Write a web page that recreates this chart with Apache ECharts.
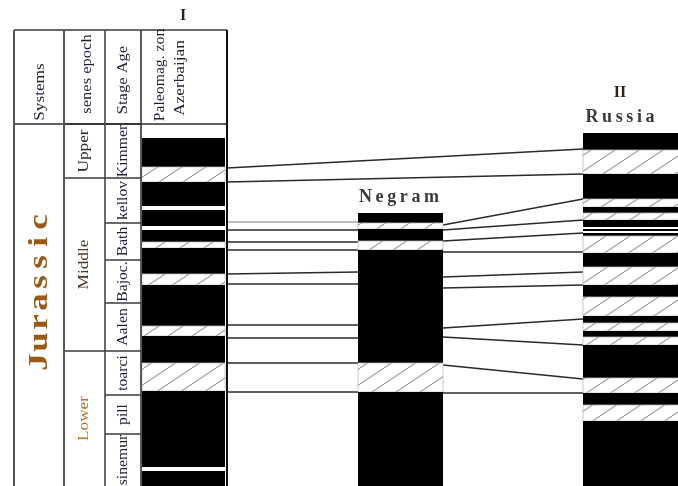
<!DOCTYPE html>
<html>
<head>
<meta charset="utf-8">
<script src="https://cdn.jsdelivr.net/npm/echarts@6/dist/echarts.min.js"></script>
<style>
  html, body { margin: 0; padding: 0; background: #fff; }
  #chart { width: 678px; height: 486px; }
</style>
</head>
<body>
<div id="chart"></div>
<script>
// ---- Section scale: positions along the section (0 = top of sheet, 486 = bottom) ----

// Stratigraphic table
const systemName = 'Jurassic';
const epochNames = ['Upper', 'Middle', 'Lower'];
const epochTops = [124, 178, 351];
const stageNames = ['Kimmer', 'kellov', 'Bath', 'Bajoc.', 'Aalen', 'toarci', 'pill', 'sinemur'];
const stageTops = [124, 178, 223, 260, 303, 351, 395, 434];
const sectionBase = 486;

// Polarity zones: [top, bottom, polarity]  n = normal, r = reversed, w = gap
const zonesAzerbaijan = [
  [124, 138, 'w'], [138, 167, 'n'], [167, 182, 'r'], [182, 206, 'n'], [206, 210, 'w'],
  [210, 226, 'n'], [226, 230, 'w'], [230, 242, 'n'], [242, 248, 'r'], [248, 274, 'n'],
  [274, 285, 'r'], [285, 326, 'n'], [326, 336, 'r'], [336, 363, 'n'], [363, 391, 'r'],
  [391, 467, 'n'], [467, 471, 'w'], [471, 486, 'n']
];
const zonesNegram = [
  [213, 223, 'n'], [223, 229, 'r'], [229, 241, 'n'], [241, 250, 'r'],
  [250, 363, 'n'], [363, 392, 'r'], [392, 486, 'n']
];
const zonesRussia = [
  [133, 150, 'n'], [150, 174, 'r'], [174, 199, 'n'], [199, 207, 'r'], [207, 213, 'n'],
  [213, 220, 'r'], [220, 227, 'n'], [227, 229, 'w'], [229, 231, 'n'], [231, 233, 'w'],
  [233, 236, 'n'], [236, 253, 'r'], [253, 267, 'n'], [267, 285, 'r'], [285, 297, 'n'],
  [297, 316, 'r'], [316, 323, 'n'], [323, 331, 'r'], [331, 337, 'n'], [337, 345, 'r'],
  [345, 378, 'n'], [378, 393, 'r'], [393, 405, 'n'], [405, 421, 'r'], [421, 486, 'n']
];

// Correlation ties: [level in left column, level in right column]
const tiesAzerbaijanRussia = [[168, 149], [182, 174]];
const tiesAzerbaijanNegram = [
  [230, 230], [242, 242], [250, 250], [274, 272], [284, 284],
  [325, 325], [338, 338], [363, 363], [392, 392]
];
const tiesAzerbaijanNegramFaint = [[222, 222]];
const tiesNegramRussia = [
  [225, 199], [230, 220], [241, 233], [252, 252], [277, 272], [288, 285],
  [328, 319], [337, 345], [365, 379], [393, 393]
];

// ---- Layout (horizontal extents of the columns) ----
const COL_AZ = [142, 225];
const COL_NG = [358, 443];
const COL_RU = [583, 700];
const TABLE = { left: 14, sys: 64, epoch: 105, stage: 141, right: 227, top: 30, head: 124 };

const SERIF = '"Liberation Serif", "DejaVu Serif", serif';
const INK = '#1d2236';

// Diagonal hatching for reversed intervals
function makeHatch() {
  const c = document.createElement('canvas');
  c.width = 24; c.height = 16;
  const g = c.getContext('2d');
  g.fillStyle = '#fff';
  g.fillRect(0, 0, 24, 16);
  g.strokeStyle = '#9c9c9c';
  g.lineWidth = 1.1;
  g.beginPath();
  g.moveTo(-2, 17.33); g.lineTo(26, -1.33);
  g.stroke();
  return { image: c, repeat: 'repeat' };
}
const hatch = makeHatch();

function zoneSeries(name, cols, zones) {
  return {
    type: 'custom',
    name: name,
    coordinateSystem: 'cartesian2d',
    silent: true,
    z: 2,
    data: zones.map(z => [cols[0], z[0], cols[1], z[1]]),
    renderItem: function (params, api) {
      const p0 = api.coord([api.value(0), api.value(1)]);
      const p1 = api.coord([api.value(2), api.value(3)]);
      const pol = zones[params.dataIndex][2];
      const fill = pol === 'n' ? '#000' : (pol === 'r' ? hatch : '#fff');
      return {
        type: 'rect',
        shape: { x: p0[0], y: p0[1], width: p1[0] - p0[0], height: p1[1] - p0[1] },
        style: { fill: fill, stroke: pol === 'r' ? '#bdbdbd' : null, lineWidth: 0.8 }
      };
    }
  };
}

function tieSeries(x0, x1, ties, color, width) {
  return {
    type: 'custom',
    coordinateSystem: 'cartesian2d',
    silent: true,
    z: 1,
    data: ties.map(t => [x0, t[0], x1, t[1]]),
    renderItem: function (params, api) {
      const a = api.coord([api.value(0), api.value(1)]);
      const b = api.coord([api.value(2), api.value(3)]);
      return {
        type: 'line',
        shape: { x1: a[0], y1: a[1], x2: b[0], y2: b[1] },
        style: { stroke: color, lineWidth: width }
      };
    }
  };
}

// Table cells with vertical (rotated) names
function cellSeries(x0, x1, tops, names, styleFor) {
  const rows = tops.map((t, i) => [x0, t, x1, i + 1 < tops.length ? tops[i + 1] : sectionBase]);
  return {
    type: 'custom',
    coordinateSystem: 'cartesian2d',
    silent: true,
    z: 3,
    data: rows,
    renderItem: function (params, api) {
      const a = api.coord([api.value(0), api.value(1)]);
      const b = api.coord([api.value(2), api.value(3)]);
      const st = styleFor(params.dataIndex);
      return {
        type: 'group',
        children: [
          { type: 'line', shape: { x1: a[0], y1: a[1], x2: b[0], y2: a[1] },
            style: { stroke: '#3a3a3a', lineWidth: 1.4 } },
          { type: 'text', x: (a[0] + b[0]) / 2 + (st.dx || 0), y: (a[1] + Math.min(b[1], 486)) / 2 + (st.dy || 0),
            rotation: Math.PI / 2, scaleX: st.stretch || 1,
            style: { text: names[params.dataIndex], align: 'center', verticalAlign: 'middle',
                     font: st.font, fill: st.color } }
        ]
      };
    }
  };
}

function spaced(word, key) {
  return word.split('').map(ch => '{' + key + '|' + ch + '}').join('');
}

const chart = echarts.init(document.getElementById('chart'), null, { renderer: 'canvas' });

const epochColors = ['#2a2a3a', '#4a3b22', '#b8742a'];
const vLine = (x, y0, y1, color, w) => ({
  type: 'line', silent: true, z: 4,
  shape: { x1: x, y1: y0, x2: x, y2: y1 }, style: { stroke: color, lineWidth: w }
});
const hLine = (y, x0, x1, color, w) => ({
  type: 'line', silent: true, z: 4,
  shape: { x1: x0, y1: y, x2: x1, y2: y }, style: { stroke: color, lineWidth: w }
});
const vText = (text, x, y, font, color, stretch) => ({
  type: 'text', x: x, y: y, rotation: Math.PI / 2, scaleX: stretch || 1, z: 5, silent: true,
  style: { text: text, align: 'center', verticalAlign: 'middle', font: font, fill: color }
});

chart.setOption({
  animation: false,
  backgroundColor: '#fff',
  grid: { left: 0, right: 0, top: 0, bottom: 0 },
  xAxis: { type: 'value', min: 0, max: 678, show: false },
  yAxis: { type: 'value', min: 0, max: 486, inverse: true, show: false },
  series: [
    tieSeries(TABLE.right, COL_RU[0], tiesAzerbaijanRussia, '#2a2a2a', 1.6),
    tieSeries(TABLE.right, COL_NG[0], tiesAzerbaijanNegram, '#2a2a2a', 1.6),
    tieSeries(TABLE.right, COL_NG[0], tiesAzerbaijanNegramFaint, '#a8a8a8', 1.4),
    tieSeries(COL_NG[1], COL_RU[0], tiesNegramRussia, '#2a2a2a', 1.6),
    zoneSeries('Azerbaijan', COL_AZ, zonesAzerbaijan),
    zoneSeries('Negram', COL_NG, zonesNegram),
    zoneSeries('Russia', COL_RU, zonesRussia),
    cellSeries(TABLE.sys, TABLE.epoch, epochTops, epochNames, i => ({
      font: '15px ' + SERIF, color: epochColors[i], stretch: 1.15
    })),
    cellSeries(TABLE.epoch, TABLE.stage, stageTops, stageNames, i => ({
      font: '14px ' + SERIF, color: INK, stretch: 1.12
    }))
  ],
  graphic: [
    // table frame
    hLine(TABLE.top, TABLE.left, TABLE.right, '#3a3a3a', 1.6),
    hLine(TABLE.head, TABLE.left, TABLE.right, '#2a2a2a', 1.6),
    vLine(TABLE.left, TABLE.top, 486, '#555', 2),
    vLine(TABLE.sys, TABLE.top, 486, '#555', 2),
    vLine(TABLE.epoch, TABLE.top, 486, '#444', 1.6),
    vLine(TABLE.stage, TABLE.top, 486, '#333', 1.6),
    vLine(TABLE.right, TABLE.top, 486, '#111', 2),
    // header captions
    vText('Systems', 40, 92, '15px ' + SERIF, INK, 1.15),
    vText('senes epoch', 87, 74, '15px ' + SERIF, INK, 1.1),
    vText('Stage Age', 123, 80, '15px ' + SERIF, INK, 1.1),
    vText('Paleomag. zon', 160, 75, '15px ' + SERIF, INK, 1.05),
    vText('Azerbaijan', 180, 78, '15px ' + SERIF, INK, 1.15),
    {
      type: 'text', x: 40, y: 292, rotation: Math.PI / 2, scaleX: 1.25, z: 5, silent: true,
      style: {
        text: spaced(systemName, 'j'), align: 'center', verticalAlign: 'middle',
        rich: { j: { font: 'bold 28px ' + SERIF, fill: '#9a5a16', width: 16, align: 'center' } }
      }
    },
    // column titles
    { type: 'text', x: 183, y: 16, z: 5, silent: true,
      style: { text: 'I', align: 'center', verticalAlign: 'middle', font: 'bold 16px ' + SERIF, fill: '#2e2414' } },
    { type: 'text', x: 620, y: 93, z: 5, silent: true,
      style: { text: 'II', align: 'center', verticalAlign: 'middle', font: 'bold 16px ' + SERIF, fill: '#2e2414' } },
    { type: 'text', x: 399, y: 197, z: 5, silent: true,
      style: { text: spaced('Negram', 'n'), align: 'center', verticalAlign: 'middle',
               rich: { n: { font: 'bold 18px ' + SERIF, fill: '#3a3a3a', padding: [0, 1.8] } } } },
    { type: 'text', x: 620, y: 117, z: 5, silent: true,
      style: { text: spaced('Russia', 'r'), align: 'center', verticalAlign: 'middle',
               rich: { r: { font: 'bold 18px ' + SERIF, fill: '#3a3a3a', padding: [0, 1.8] } } } }
  ]
});
</script>
</body>
</html>
